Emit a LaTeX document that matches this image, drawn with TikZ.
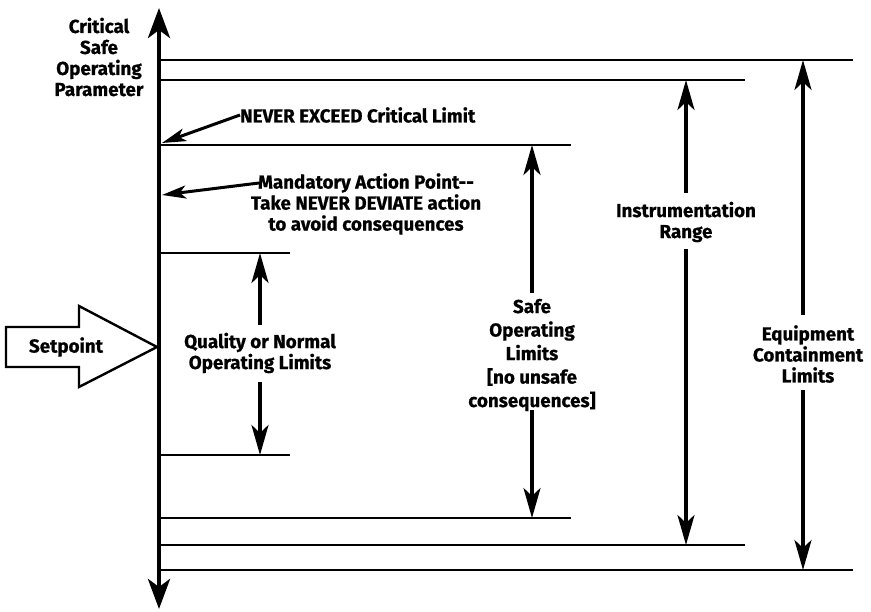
\documentclass[tikz,border=0pt]{standalone}
\usepackage{fontspec}
\setmainfont{Fira Sans}[BoldFeatures={FakeBold=0.7}]
\usetikzlibrary{arrows.meta}
\begin{document}
\begin{tikzpicture}[x=1pt,y=-1pt,
  lbl/.style={font=\bfseries\fontsize{18.8}{21}\selectfont, align=center, inner sep=0pt},
  level/.style={line width=2.6pt},
  axisline/.style={line width=4.5pt, {Stealth[length=30pt,width=22pt,inset=8pt]}-{Stealth[length=30pt,width=22pt,inset=8pt]}},
  dimline/.style={line width=3.6pt, -{Stealth[length=30pt,width=17pt,inset=8pt]}},
  pointer/.style={line width=3pt, -{Stealth[length=24pt,width=13pt,inset=6pt]}}
]
\useasboundingbox (0,0) rectangle (871,612);

% vertical parameter axis
\coordinate (axT) at (159,8);
\coordinate (axB) at (159,609);
\draw[axisline] (axB) -- (axT);

% level lines
\coordinate (eqT0) at (159,60);  \coordinate (eqT) at (853,60);
\coordinate (inT0) at (159,80);  \coordinate (inT) at (745,80);
\coordinate (saT0) at (159,145); \coordinate (saT) at (571,145);
\coordinate (quT0) at (159,253); \coordinate (quT) at (290,253);
\coordinate (quB0) at (159,455); \coordinate (quB) at (290,455);
\coordinate (saB0) at (159,518); \coordinate (saB) at (571,518);
\coordinate (inB0) at (159,545); \coordinate (inB) at (745,545);
\coordinate (eqB0) at (159,570); \coordinate (eqB) at (853,570);
\foreach \a in {eq,in,sa}{
  \draw[level] (\a T0) -- (\a T);
  \draw[level] (\a B0) -- (\a B);
}
\draw[level] (quT0) -- (quT);
\draw[level] (quB0) -- (quB);

% axis title
\node[lbl] (title) at (99,57) {Critical\\Safe\\Operating\\Parameter};

% setpoint block arrow
\coordinate (spTip) at (157,347);
\draw[line width=2.4pt, line join=miter, fill=white]
  (6,327) -- (79,327) -- (79,306) -- (spTip) -- (79,387) -- (79,367) -- (6,367) -- cycle;
\node[lbl] (setp) at (66,347) {Setpoint};

% quality / normal operating limits
\node[lbl] (qlab) at (260,353) {Quality or Normal\\Operating Limits};
\coordinate (qgT) at (260,325); \coordinate (qgB) at (260,382);
\coordinate (qaT) at (260,253); \coordinate (qaB) at (260,455);
\draw[dimline] (qgT) -- (qaT);
\draw[dimline] (qgB) -- (qaB);

% safe operating limits
\node[lbl, font=\bfseries\fontsize{18.8}{23.5}\selectfont] (slab) at (532,355) {Safe\\Operating\\Limits\\{[}no unsafe\\consequences{]}};
\coordinate (sgT) at (532,293); \coordinate (sgB) at (532,410);
\coordinate (saaT) at (532,145); \coordinate (saaB) at (532,518);
\draw[dimline] (sgT) -- (saaT);
\draw[dimline] (sgB) -- (saaB);

% instrumentation range
\node[lbl] (ilab) at (686,222) {Instrumentation\\Range};
\coordinate (igT) at (686,193); \coordinate (igB) at (686,249);
\coordinate (iaT) at (686,80); \coordinate (iaB) at (686,545);
\draw[dimline] (igT) -- (iaT);
\draw[dimline] (igB) -- (iaB);

% equipment containment limits
\node[lbl] (elab) at (808,354) {Equipment\\Containment\\Limits};
\coordinate (egT) at (803,315); \coordinate (egB) at (803,390);
\coordinate (eaT) at (803,60); \coordinate (eaB) at (803,570);
\draw[dimline] (egT) -- (eaT);
\draw[dimline] (egB) -- (eaB);

% callouts on the axis
\node[lbl, anchor=west] (never) at (240,115) {NEVER EXCEED Critical Limit};
\coordinate (neverTip) at (162,143);
\draw[pointer] (never.west) -- (neverTip);

\node[lbl] (mand) at (366,204) {Mandatory Action Point-{}-\\Take NEVER DEVIATE action\\to avoid consequences};
\coordinate (mandFrom) at (259,183);
\coordinate (mandTip) at (162,195);
\draw[pointer] (mandFrom) -- (mandTip);
\end{tikzpicture}
\end{document}
